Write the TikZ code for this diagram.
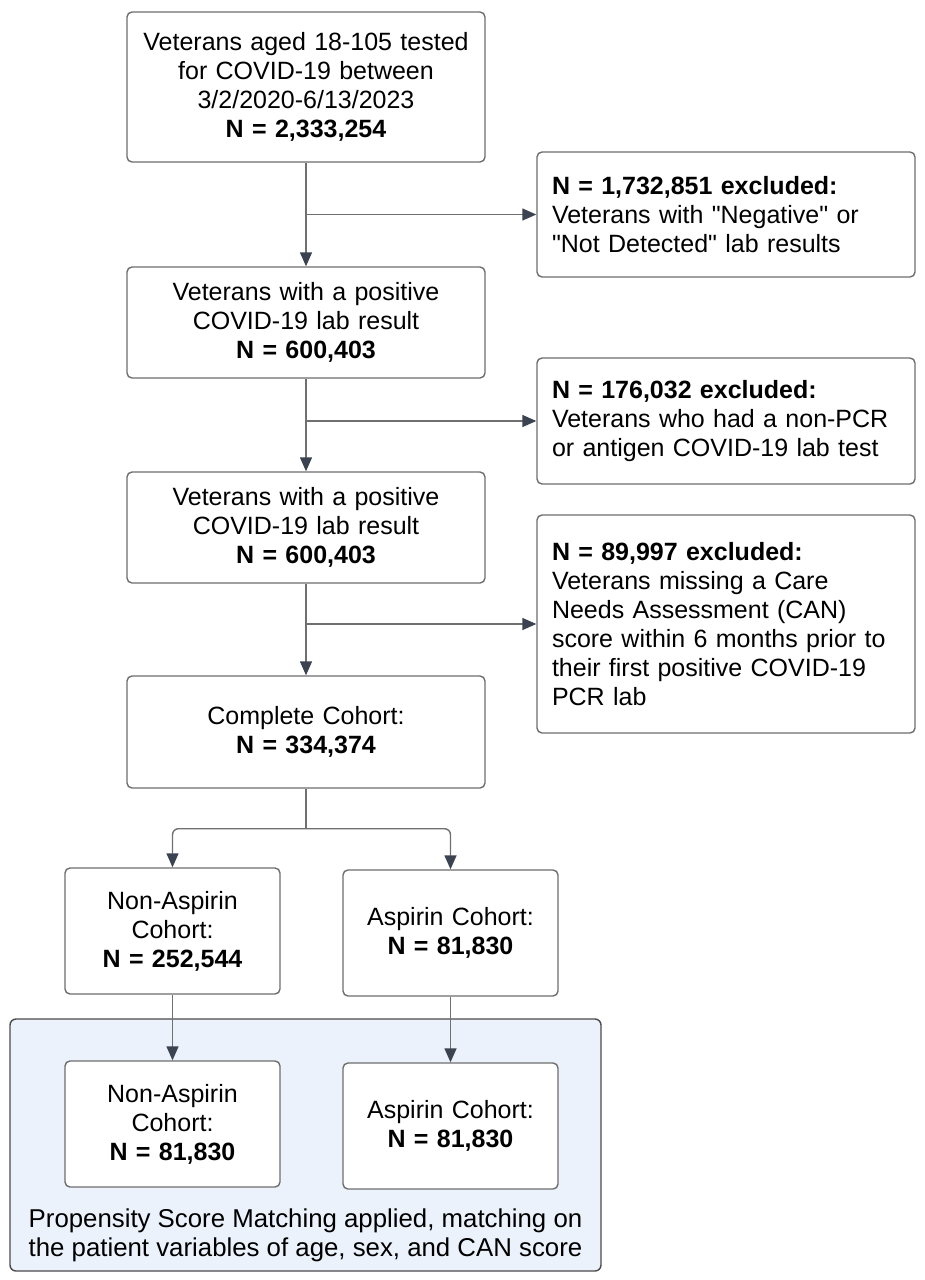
\documentclass[tikz,border=0pt]{standalone}
\usepackage{fontspec}
\setmainfont{Liberation Sans}[Ligatures=TeXOff]
\usetikzlibrary{arrows.meta,calc}
\definecolor{boxline}{HTML}{6E6E6E}
\definecolor{conn}{HTML}{707070}
\definecolor{tipc}{HTML}{3B4250}
\definecolor{bluefill}{HTML}{EBF2FC}
\definecolor{blueline}{HTML}{4A4A4A}
\begin{document}
\begin{tikzpicture}[x=1pt,y=-1pt,
  every node/.style={font=\fontsize{25}{29}\selectfont, text=black},
  mainbox/.style={draw=boxline, line width=1.4pt, rounded corners=5pt, fill=white,
    minimum width=358pt, text width=340pt, align=center, inner sep=0pt},
  exclbox/.style={draw=boxline, line width=1.4pt, rounded corners=5pt, fill=white,
    minimum width=378pt, text width=348pt, align=left, inner xsep=15pt, inner ysep=0pt},
  cohbox/.style={draw=boxline, line width=1.4pt, rounded corners=5pt, fill=white,
    minimum width=215pt, minimum height=126pt, text width=205pt, align=center, inner sep=0pt},
  arr/.style={draw=conn, line width=1.4pt, -{Triangle[length=14pt,width=12pt,fill=tipc,color=tipc]}},
  ln/.style={draw=conn, line width=1.4pt}
]
\useasboundingbox[fill=white] (0,0) rectangle (924,1280);

% propensity region
\node[draw=blueline, line width=1.4pt, fill=bluefill, rounded corners=6pt,
  minimum width=591pt, minimum height=252pt, inner sep=0pt] (psm) at (305.5,1145) {};
\node[anchor=south, align=center, inner sep=0pt, font=\fontsize{25.8}{29}\selectfont] (psmtext) at (305.5,1262)
  {Propensity Score Matching applied, matching on\\the patient variables of age, sex, and CAN score};

% main column
\node[mainbox, minimum height=150pt] (b1) at (306,87)
  {Veterans aged 18-105 tested\\for COVID-19 between\\3/2/2020-6/13/2023\\\textbf{N = 2,333,254}};
\node[mainbox, minimum height=111pt] (b2) at (306,322.5)
  {Veterans with a positive\\COVID-19 lab result\\\textbf{N = 600,403}};
\node[mainbox, minimum height=111pt] (b3) at (306,527.5)
  {Veterans with a positive\\COVID-19 lab result\\\textbf{N = 600,403}};
\node[mainbox, minimum height=112pt] (b4) at (306,732)
  {Complete Cohort:\\\textbf{N = 334,374}};

% exclusion boxes
\node[exclbox, minimum height=125pt] (e1) at (726,214.5)
  {\textbf{N = 1,732,851 excluded:}\\Veterans with "Negative" or\\"Not Detected" lab results};
\node[exclbox, minimum height=126pt] (e2) at (726,421)
  {\textbf{N = 176,032 excluded:}\\Veterans who had a non-PCR\\or antigen COVID-19 lab test};
\node[exclbox, minimum height=218pt] (e3) at (726,624)
  {\textbf{N = 89,997 excluded:}\\Veterans missing a Care\\Needs Assessment (CAN)\\score within 6 months prior to\\their first positive COVID-19\\PCR lab};

% cohort boxes
\node[cohbox] (na) at (172.5,931) {Non-Aspirin\\Cohort:\\\textbf{N = 252,544}};
\node[cohbox] (a) at (450.5,933) {Aspirin Cohort:\\\textbf{N = 81,830}};
\node[cohbox] (nam) at (172.5,1124) {Non-Aspirin\\Cohort:\\\textbf{N = 81,830}};
\node[cohbox] (am) at (450.5,1126) {Aspirin Cohort:\\\textbf{N = 81,830}};

% connectors
\draw[arr] (b1) -- (b2);
\draw[arr] (b1.south |- e1.west) -- (e1.west);
\draw[arr] (b2) -- (b3);
\draw[arr] (b2.south |- e2.west) -- (e2.west);
\draw[arr] (b3) -- (b4);
\draw[arr] (b3.south |- e3.west) -- (e3.west);

\coordinate (split) at ($(b4.south)+(0,40)$);
\draw[ln] (b4.south) -- (split);
\draw[arr, rounded corners=6pt] (split) -| (na.north);
\draw[arr, rounded corners=6pt] (split) -| (a.north);
\draw[arr] (na) -- (nam);
\draw[arr] (a) -- (am);
\end{tikzpicture}
\end{document}
